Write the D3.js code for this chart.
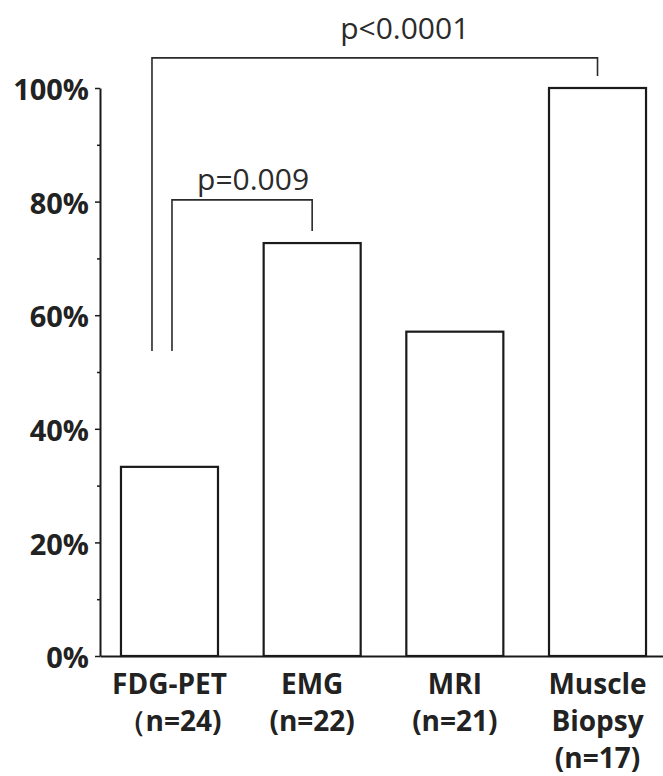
<!DOCTYPE html>
<html>
<head>
<meta charset="utf-8">
<script src="https://cdn.jsdelivr.net/npm/d3@7"></script>
<style>
    body { margin: 0; background: #fff; }
    svg { display: block; }
    .tick-label { font-family: "Open Sans", sans-serif; font-weight: 700; fill: #222; }
    .pval { font-family: "Open Sans", sans-serif; font-weight: 400; fill: #2b2b2b; }
</style>
</head>
<body>
<div id="chart-area"></div>
<script>
// data
const categories = ['FDG-PET', 'EMG', 'MRI', 'Muscle Biopsy'];
const nameLines = [['FDG-PET'], ['EMG'], ['MRI'], ['Muscle', 'Biopsy']];
const nLabels = ['（n=24)', '(n=22)', '(n=21)', '(n=17)'];
const values = [33.3, 72.7, 57.1, 100];
const yTicks = [0, 20, 40, 60, 80, 100];
const yMinorTicks = [10, 30, 50, 70, 90];

const comparisons = [
    { from: 'FDG-PET', to: 'EMG', label: 'p=0.009' },
    { from: 'FDG-PET', to: 'Muscle Biopsy', label: 'p<0.0001' }
];

const W = 663, H = 776;

const svg = d3.select('#chart-area')
    .append('svg')
    .attr('width', W)
    .attr('height', H);

const x = d3.scaleBand()
    .domain(categories)
    .range([100, 667])
    .paddingInner(0.32)
    .paddingOuter(0.147);

const y = d3.scaleLinear()
    .domain([0, 100])
    .range([656, 88]);

// bars
svg.selectAll('.bar')
    .data(categories)
    .enter()
    .append('rect')
    .attr('class', 'bar')
    .attr('x', d => x(d))
    .attr('y', (d, i) => y(values[i]))
    .attr('width', x.bandwidth())
    .attr('height', (d, i) => y(0) - y(values[i]))
    .attr('fill', '#fff')
    .attr('stroke', '#1a1a1a')
    .attr('stroke-width', 2.2);

// minor y ticks
svg.append('g')
    .attr('transform', 'translate(100,0)')
    .call(d3.axisLeft(y).tickValues(yMinorTicks).tickSize(3).tickSizeOuter(0).tickFormat(''))
    .call(g => g.select('.domain').remove())
    .selectAll('line').attr('stroke', '#1a1a1a').attr('stroke-width', 1.5);

// major y axis
const yAxis = svg.append('g')
    .attr('transform', 'translate(100,0)')
    .call(d3.axisLeft(y).tickValues(yTicks).tickSize(5).tickSizeOuter(0).tickPadding(6).tickFormat(d => d + '%'));
yAxis.select('.domain').attr('stroke', '#1a1a1a').attr('stroke-width', 2);
yAxis.selectAll('line').attr('stroke', '#1a1a1a').attr('stroke-width', 1.5);
yAxis.selectAll('text')
    .attr('class', 'tick-label')
    .style('font-size', '29px')
    .attr('dy', '0.4em');

// x axis line
const xAxis = svg.append('g')
    .attr('transform', `translate(0,${y(0)})`)
    .call(d3.axisBottom(x).tickSize(0).tickSizeOuter(0).tickFormat(''));
xAxis.select('.domain').attr('stroke', '#1a1a1a').attr('stroke-width', 2.2);

// category labels
const labels = svg.selectAll('.xlab')
    .data(categories)
    .enter()
    .append('text')
    .attr('class', 'tick-label xlab')
    .attr('text-anchor', 'middle')
    .style('font-size', '28px');

labels.each(function(d, i) {
    const t = d3.select(this);
    const cx = x(d) + x.bandwidth() / 2;
    const lines = nameLines[i].concat([nLabels[i]]);
    lines.forEach((ln, j) => {
        t.append('tspan')
            .attr('x', cx)
            .attr('y', 694 + j * 37)
            .text(ln);
    });
});

// significance brackets
const center = c => x(c) + x.bandwidth() / 2;
const bracketLevels = [80.3, 105.3];
const leftOffsets = [2.5, -17.5];
const labelShift = [11, 30];
const labelGap = [10, 19];

comparisons.forEach((c, i) => {
    const x1 = center(c.from) + leftOffsets[i];
    const x2 = center(c.to);
    const yTop = y(bracketLevels[i]);
    const yLeft = y(53.7);
    const yRight = y(values[categories.indexOf(c.to)]) - 12;

    svg.append('path')
        .attr('d', `M${x1},${yLeft}V${yTop}H${x2}V${yRight}`)
        .attr('fill', 'none')
        .attr('stroke', '#2a2a2a')
        .attr('stroke-width', 1.6);

    svg.append('text')
        .attr('class', 'pval')
        .attr('x', (x1 + x2) / 2 + labelShift[i])
        .attr('y', yTop - labelGap[i])
        .attr('text-anchor', 'middle')
        .style('font-size', '30px')
        .text(c.label);
});
</script>
</body>
</html>
